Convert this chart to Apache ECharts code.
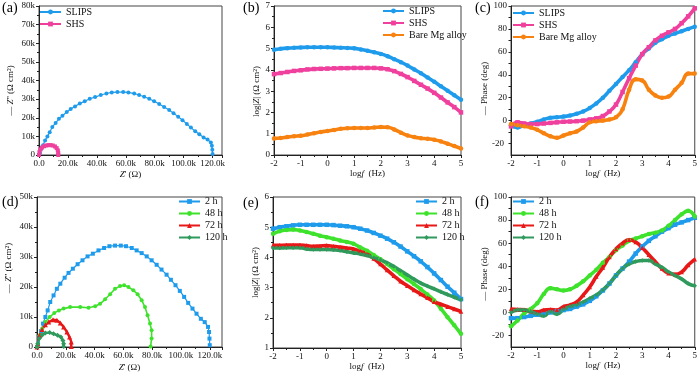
<!DOCTYPE html>
<html><head><meta charset="utf-8">
<script src="https://cdn.jsdelivr.net/npm/echarts@6/dist/echarts.min.js"></script>
<style>html,body{margin:0;padding:0;background:#fff}#c{width:700px;height:374px}</style>
</head><body><div id="c"></div>
<script>
// ---------- data ----------
const logF = [-2,-1.75,-1.5,-1.25,-1,-0.75,-0.5,-0.25,0,0.25,0.5,0.75,1,1.25,1.5,1.75,2,2.25,2.5,2.75,3,3.25,3.5,3.75,4,4.25,4.5,4.75,5];

// Nyquist (k ohm)
const nyqSLIPSRe = [0,0.7,1.6,2.8,4.2,5.8,7.4,9.2,11.5,13.8,16.2,19.2,21.9,24.9,28.2,31.6,35.1,38.8,42.7,46.6,50.3,54.2,58.2,61.8,65.8,69.2,72.7,76.2,79.6,83.1,86.5,90,93,96.2,99.2,102.2,105,108,110.8,113.8,116.5,118.8,119.5,119.8,120];
const nyqSLIPSIm = [0,1.1,3.3,5.3,7.8,10,12.2,15,17.2,19.4,21.1,23.1,24.7,26.1,27.6,28.9,30.2,31.1,32.2,33,33.6,33.8,33.8,33.6,33,32.2,31.3,30.2,28.9,27.4,25.8,24.1,22.4,20.6,18.7,16.7,14.7,12.8,11.1,9.4,8.3,6.7,5,2.8,0.6];
const nyqSHSRe = [0,0.3,1,2,3.5,5,6.5,8,9.5,11,12.2,13,13.3,13.3];
const nyqSHSIm = [0,1.5,3,4,4.7,5.1,5.3,5.3,5.1,4.6,3.7,2.5,1.2,0];
const nyq48Re = [0,0.5,1.8,3.5,5.8,8.8,12,15.2,18.5,23,30,35.8,40.4,43.8,47.3,50.8,54.2,57.7,60.5,63.5,66.9,69.9,72.7,75,76.8,78.5,79.6,79.6,78.9];
const nyq48Im = [0,1.1,3.9,6.1,8.3,10,11.3,12.2,12.8,13.3,13.3,13.1,13.6,14.4,15.9,17.6,19.4,20.3,20.6,20,18.9,17.6,15.6,13.3,10.6,7.8,5.6,2.8,0.2];
const nyq72Re = [0,0.5,1.8,3.5,5.8,8.1,11.1,13.8,16.2,18.5,20.8,22.6,23.8,23.8];
const nyq72Im = [0,1.1,3.9,5.8,7.4,8.3,9.1,8.9,8,6.7,5,3.3,1.7,0.2];
const nyq120Re = [0,0.5,1.6,3.5,5.8,8.8,11.5,14.3,16.6,18,18.5,18.5];
const nyq120Im = [0,1.1,2.8,3.9,4.7,4.8,4.4,3.9,3.3,2.2,1.1,0.2];

// Bode |Z| (b)
const bSLIPS = [4.95,4.99,5.02,5.04,5.05,5.06,5.06,5.06,5.06,5.05,5.04,5.03,5.01,4.96,4.9,4.83,4.75,4.64,4.5,4.36,4.2,4.02,3.84,3.64,3.44,3.23,3.02,2.81,2.6];
const bSHS = [3.8,3.85,3.9,3.95,3.98,4.02,4.04,4.05,4.06,4.07,4.08,4.08,4.09,4.09,4.09,4.09,4.07,4.03,3.94,3.81,3.66,3.48,3.3,3.12,2.92,2.7,2.47,2.25,2.0];
const bBare = [0.78,0.8,0.84,0.88,0.91,0.96,1.02,1.08,1.13,1.18,1.23,1.26,1.27,1.27,1.27,1.29,1.31,1.3,1.2,1.05,0.92,0.84,0.79,0.76,0.72,0.64,0.53,0.42,0.3];
// Phase (c)
const cSLIPS = [-4,-6,-4,-2.5,-1,1,2.5,3,3.5,4.5,6,8,11,15,20,26,32,38,44,51,58,63,68,71,74,76,78,80,82];
const cSHS = [-5,-1.5,-2.5,-3,-3,-2.5,-2,-1.5,-1,-0.8,-0.5,0,1,2,4,8,14,25,37,48,58,64,70,74,77,80,85,91,98];
const cBare = [-3,-4,-5,-6,-8,-11,-13.6,-15,-13,-11,-9.5,-6,-1.5,-0.5,0,1,3,10,27,36,35,27,22,20,21,27,33,41,41];
// Bode |Z| (e)
const e2h = [4.95,5.0,5.03,5.06,5.08,5.08,5.08,5.08,5.08,5.07,5.05,5.03,5.0,4.95,4.89,4.81,4.72,4.62,4.5,4.36,4.2,4.04,3.87,3.68,3.47,3.25,3.03,2.83,2.62];
const e48h = [4.78,4.87,4.91,4.92,4.89,4.84,4.78,4.72,4.67,4.62,4.56,4.51,4.45,4.33,4.22,4.08,3.94,3.78,3.61,3.45,3.28,3.12,2.95,2.77,2.57,2.3,2.02,1.75,1.47];
const e72h = [4.4,4.4,4.41,4.41,4.41,4.39,4.37,4.38,4.39,4.37,4.34,4.31,4.28,4.2,4.11,3.96,3.78,3.58,3.39,3.21,3.06,2.92,2.79,2.66,2.53,2.45,2.37,2.29,2.21];
const e120h = [4.31,4.31,4.32,4.32,4.32,4.28,4.26,4.26,4.26,4.25,4.23,4.19,4.15,4.11,4.06,3.99,3.92,3.82,3.7,3.56,3.42,3.28,3.15,3.05,2.96,2.86,2.77,2.68,2.6];
// Phase (f)
const f2h = [-5,-5,-4,-3,-2,-1,0,1,2,3,5,7,10,14,19,25,32,38,44,51,57,62,66,70,73,76,78,80,82];
const f48h = [-12,-7,-1,3,8,16,21,20,19,20,23,27,32,37,43,48,54,58,62,64,66,68,69,71,75,80,85,88,83];
const f72h = [3,2.5,2.3,1,0.5,2,2.5,2,5,6.4,9,15,22,31,39,48,55,60,63,61,56,50,44,38,34,33,35,41,46];
const f120h = [0,2,2,0.5,-1.5,-3,0.5,-1.5,2.5,5,6.5,9,12,15,19.5,25,32,38,42,44,45,45,42,39,35,32,29,25,23];

const phaseLabelStep = 20;
const phaseLowLabels = [-20];
const panelLabels = ['(a)','(b)','(c)','(d)','(e)','(f)'];

// ---------- style ----------
const FONT = '"Liberation Serif","Times New Roman",serif';
const C = {blue:'#1f9bec', mag:'#f0409e', orange:'#f7820f', green:'#3ee22c', red:'#e81818', dgreen:'#2f9a5c'};
const INK = '#111';

function merge(base, extra){
  const out = Object.assign({}, base);
  for (const k in extra){
    if (extra[k] && typeof extra[k]==='object' && !Array.isArray(extra[k]) && base[k] && typeof base[k]==='object') out[k] = Object.assign({}, base[k], extra[k]);
    else out[k] = extra[k];
  }
  return out;
}
const rich = {n:{fontFamily:FONT,fontSize:9,color:INK}, i:{fontFamily:FONT,fontSize:9,color:INK,fontStyle:'italic'}};
const baseAxis = {
  type:'value', nameLocation:'middle',
  axisLine:{show:true,onZero:false,lineStyle:{color:'#222',width:1}},
  axisTick:{show:true,length:3,lineStyle:{color:'#222'}},
  minorTick:{show:true,splitNumber:2,length:2,lineStyle:{color:'#222'}},
  splitLine:{show:false}, minorSplitLine:{show:false},
  axisLabel:{fontFamily:FONT,fontSize:9,color:INK,margin:4},
  nameTextStyle:{fontFamily:FONT,fontSize:9,color:INK,rich:rich}
};
const ax = e => merge(baseAxis, e);

const nameZre = "{i|Z}{n|' (Ω)}";
const nameZim = "{n|— }{i|Z}{n|'' (Ω cm²)}";
const nameLogZ = "{n|log|}{i|Z}{n|| (Ω cm²)}";
const namePhase = "{n|— Phase (deg)}";
const nameLogF = "{n|log}{i|f}{n|  (Hz)}";

const kx = v => v===0 ? '0.0' : v.toFixed(1)+'k';
const ky = v => v===0 ? '0' : v+'k';

const grids = [
  {left:39, right:478, top:6, bottom:219},
  {left:274, right:239, top:6, bottom:219},
  {left:511, right:3, top:6, bottom:219},
  {left:37, right:478, top:197, bottom:27},
  {left:273, right:239, top:197, bottom:26},
  {left:511, right:3, top:197, bottom:27}
].map(g => Object.assign({show:true, borderColor:'#444', borderWidth:1, backgroundColor:'transparent'}, g));

const logX = i => ax({gridIndex:i, min:-2, max:5, interval:1, name:nameLogF, nameGap:13});
const xAxes = [
  ax({gridIndex:0, min:0, max:126.5, interval:20, name:nameZre, nameGap:15, axisLabel:{formatter:kx, showMaxLabel:false}}),
  logX(1), logX(2),
  ax({gridIndex:3, min:0, max:128.5, interval:20, name:nameZre, nameGap:16, axisLabel:{formatter:kx, showMaxLabel:false}}),
  logX(4), logX(5)
];
const phaseY = (i, pad) => ax({gridIndex:i, min:-30, max:100, interval:10, name:namePhase, nameGap:16,
  nameTextStyle:{padding:[0,pad,0,0]},
  axisLabel:{showMinLabel:false, hideOverlap:false,
    formatter: v => (Math.round(v) % phaseLabelStep === 0 && Math.round(v) > -20 ? String(Math.round(v)) : '')},
  axisTick:{length:2.5}, minorTick:{show:false}});
// label-only companion axis so the lowest phase label is always drawn
const phaseLowY = i => ({type:'value', gridIndex:i, position:'left', min:-30, max:100,
  axisLine:{show:false}, axisTick:{show:false}, splitLine:{show:false}, minorTick:{show:false},
  axisLabel:{show:true, customValues:phaseLowLabels, showMinLabel:true, hideOverlap:false,
    fontFamily:FONT, fontSize:9, color:INK, margin:7}});
const yAxes = [
  ax({gridIndex:0, min:0, max:80, interval:10, name:nameZim, nameGap:24, nameTextStyle:{padding:[0,20,0,0]}, axisLabel:{formatter:ky}}),
  ax({gridIndex:1, min:0, max:7, interval:1, name:nameLogZ, nameGap:11, nameTextStyle:{padding:[0,22,0,0]}}),
  phaseY(2, 16),
  ax({gridIndex:3, min:0, max:50, interval:10, name:nameZim, nameGap:24, nameTextStyle:{padding:[0,0,0,8]}, axisLabel:{formatter:ky}}),
  ax({gridIndex:4, min:1, max:6, interval:1, name:nameLogZ, nameGap:11}),
  phaseY(5, 4),
  phaseLowY(2),
  phaseLowY(5)
];

function s(idx, name, color, xs, ys, symbol, size, width, smooth){
  return {type:'line', name, xAxisIndex:idx, yAxisIndex:idx, data: xs.map((x,i)=>[x, ys[i]]),
    symbol, symbolSize:size, showSymbol:true, smooth:smooth||false, clip:true,
    lineStyle:{color, width}, itemStyle:{color, borderWidth:0}, emphasis:{disabled:true}, z:2};
}
const BW = 3.6, BS = 4.5;
const series = [
  s(0,'SLIPS',C.blue,nyqSLIPSRe,nyqSLIPSIm,'circle',4,1.2),
  s(0,'SHS',C.mag,nyqSHSRe,nyqSHSIm,'rect',4,2.6),
  s(1,'SLIPS',C.blue,logF,bSLIPS,'circle',BS,BW,true),
  s(1,'SHS',C.mag,logF,bSHS,'rect',BS,BW,true),
  s(1,'Bare Mg alloy',C.orange,logF,bBare,'circle',BS,BW,true),
  s(2,'SLIPS',C.blue,logF,cSLIPS,'circle',BS,BW,true),
  s(2,'SHS',C.mag,logF,cSHS,'rect',BS,BW,true),
  s(2,'Bare Mg alloy',C.orange,logF,cBare,'circle',BS,BW,true),
  s(3,'2 h',C.blue,nyqSLIPSRe,nyqSLIPSIm,'rect',4,1.2),
  s(3,'48 h',C.green,nyq48Re,nyq48Im,'circle',4,1.6),
  s(3,'72 h',C.red,nyq72Re,nyq72Im,'triangle',5,2.4),
  s(3,'120 h',C.dgreen,nyq120Re,nyq120Im,'diamond',5,2.4),
  s(4,'2 h',C.blue,logF,e2h,'rect',BS,BW,true),
  s(4,'48 h',C.green,logF,e48h,'circle',BS,BW,true),
  s(4,'72 h',C.red,logF,e72h,'triangle',BS,BW,true),
  s(4,'120 h',C.dgreen,logF,e120h,'diamond',BS,BW,true),
  s(5,'2 h',C.blue,logF,f2h,'rect',BS,BW,true),
  s(5,'48 h',C.green,logF,f48h,'circle',BS,BW,true),
  s(5,'72 h',C.red,logF,f72h,'triangle',BS,BW,true),
  s(5,'120 h',C.dgreen,logF,f120h,'diamond',BS,BW,true)
];

function lg(left, top, names){
  return {left, top, orient:'vertical', padding:0, itemGap:1, itemWidth:21, itemHeight:6,
    selectedMode:false, lineStyle:{width:2}, textStyle:{fontFamily:FONT,fontSize:10,color:INK,lineHeight:11},
    data:names};
}
const legends = [
  lg(39, 6.5, ['SLIPS','SHS']),
  lg(382, 5.5, ['SLIPS','SHS','Bare Mg alloy']),
  lg(512, 7.5, ['SLIPS','SHS','Bare Mg alloy']),
  lg(178, 196, ['2 h','48 h','72 h','120 h']),
  lg(415, 196, ['2 h','48 h','72 h','120 h']),
  lg(512, 196, ['2 h','48 h','72 h','120 h'])
];
const labelPos = [[2,1],[243,1],[475,1],[2,195],[243,196],[475,195]];
const graphic = panelLabels.map((t,i)=>({type:'text', left:labelPos[i][0], top:labelPos[i][1],
  style:{text:t, font:'14px '+FONT, fill:'#000'}}));

const chart = echarts.init(document.getElementById('c'), null, {renderer:'canvas'});
chart.setOption({animation:false, backgroundColor:'#fff', grid:grids, xAxis:xAxes, yAxis:yAxes, series, legend:legends, graphic});
</script></body></html>
